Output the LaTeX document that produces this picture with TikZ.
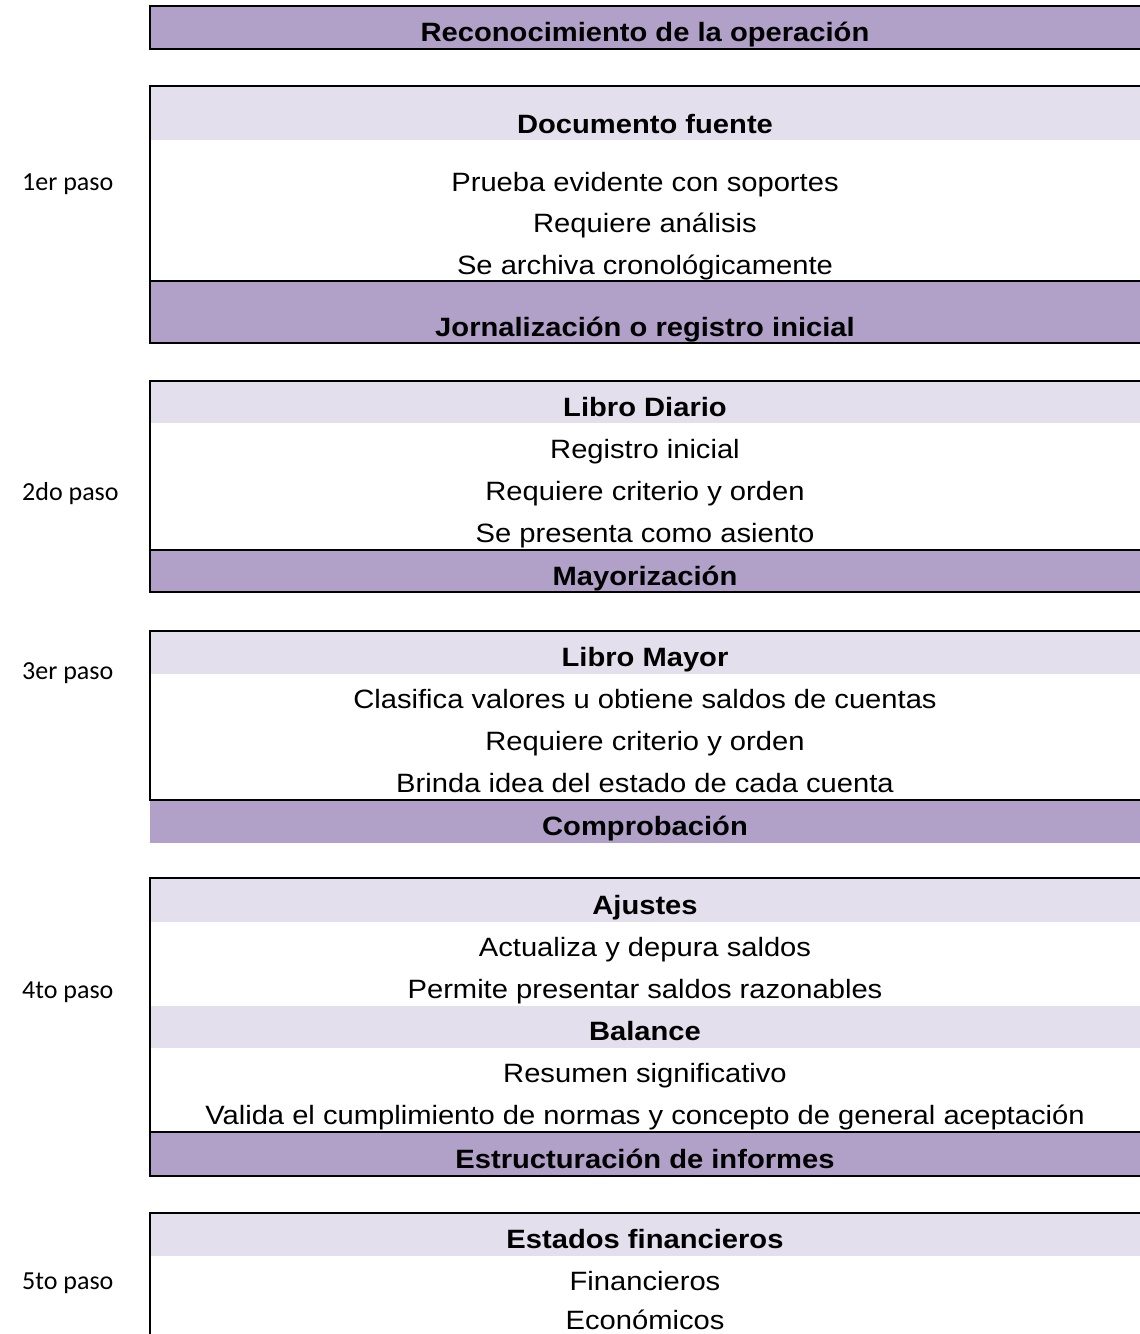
\documentclass[tikz,border=0pt]{standalone}
\usepackage{fontspec}
\newfontfamily\arial{Liberation Sans}[FakeStretch=1.1]
\newfontfamily\calib{Carlito}
\definecolor{dark}{HTML}{B1A0C7}
\definecolor{light}{HTML}{E4DFEC}
\begin{document}
\begin{tikzpicture}[x=1pt,y=-1pt,
  txt/.style={anchor=base, inner sep=0pt, font=\arial\fontsize{26.5}{30}\selectfont},
  btxt/.style={txt, font=\arial\bfseries\fontsize{26.5}{30}\selectfont},
  steplbl/.style={anchor=base west, inner sep=0pt, font=\calib\fontsize{26}{30}\selectfont},
  rule/.style={line width=2pt, black, line cap=rect}]
\useasboundingbox (0,0) rectangle (1140,1334);
\fill[white] (0,0) rectangle (1140,1334);
% fills
\fill[dark] (150,6) rectangle (1140,49);
\fill[light] (150,86) rectangle (1140,140);
\fill[dark] (150,281) rectangle (1140,343);
\fill[light] (150,381) rectangle (1140,423);
\fill[dark] (150,550) rectangle (1140,592);
\fill[light] (150,631) rectangle (1140,674);
\fill[dark] (150,800) rectangle (1140,843);
\fill[light] (150,878) rectangle (1140,922);
\fill[light] (150,1006) rectangle (1140,1048);
\fill[dark] (150,1132) rectangle (1140,1176);
\fill[light] (150,1213) rectangle (1140,1256);
% borders
\draw[rule] (1140,6) -- (150,6) -- (150,49) -- (1140,49);
\draw[rule] (1140,86) -- (150,86) -- (150,343) -- (1140,343);
\draw[rule] (150,281) -- (1140,281);
\draw[rule] (1140,381) -- (150,381) -- (150,592) -- (1140,592);
\draw[rule] (150,550) -- (1140,550);
\draw[rule] (1140,631) -- (150,631) -- (150,800) -- (1140,800);
\draw[rule] (1140,878) -- (150,878) -- (150,1176) -- (1140,1176);
\draw[rule] (150,1132) -- (1140,1132);
\draw[rule] (1140,1213) -- (150,1213) -- (150,1340);
% texts
\node[btxt] (h0) at (645,41) {Reconocimiento de la operación};
\node[btxt] (b1) at (645,133) {Documento fuente};
\node[txt] (b1a) at (645,191) {Prueba evidente con soportes};
\node[txt] (b1b) at (645,232) {Requiere análisis};
\node[txt] (b1c) at (645,274) {Se archiva cronológicamente};
\node[btxt] (h1) at (645,336) {Jornalización o registro inicial};
\node[btxt] (b2) at (645,416) {Libro Diario};
\node[txt] (b2a) at (645,458) {Registro inicial};
\node[txt] (b2b) at (645,500) {Requiere criterio y orden};
\node[txt] (b2c) at (645,542) {Se presenta como asiento};
\node[btxt] (h2) at (645,585) {Mayorización};
\node[btxt] (b3) at (645,666) {Libro Mayor};
\node[txt] (b3a) at (645,708) {Clasifica valores u obtiene saldos de cuentas};
\node[txt] (b3b) at (645,750) {Requiere criterio y orden};
\node[txt] (b3c) at (645,792) {Brinda idea del estado de cada cuenta};
\node[btxt] (h3) at (645,835) {Comprobación};
\node[btxt] (b4) at (645,914) {Ajustes};
\node[txt] (b4a) at (645,956) {Actualiza y depura saldos};
\node[txt] (b4b) at (645,998) {Permite presentar saldos razonables};
\node[btxt] (b4c) at (645,1040) {Balance};
\node[txt] (b4d) at (645,1082) {Resumen significativo};
\node[txt] (b4e) at (645,1124) {Valida el cumplimiento de normas y concepto de general aceptación};
\node[btxt] (h4) at (645,1168) {Estructuración de informes};
\node[btxt] (b5) at (645,1248) {Estados financieros};
\node[txt] (b5a) at (645,1290) {Financieros};
\node[txt] (b5b) at (645,1329) {Económicos};
% step labels
\node[steplbl] (s1) at (22,190) {1er paso};
\node[steplbl] (s2) at (22,500) {2do paso};
\node[steplbl] (s3) at (22,679) {3er paso};
\node[steplbl] (s4) at (22,998) {4to paso};
\node[steplbl] (s5) at (22,1289) {5to paso};
\end{tikzpicture}
\end{document}
